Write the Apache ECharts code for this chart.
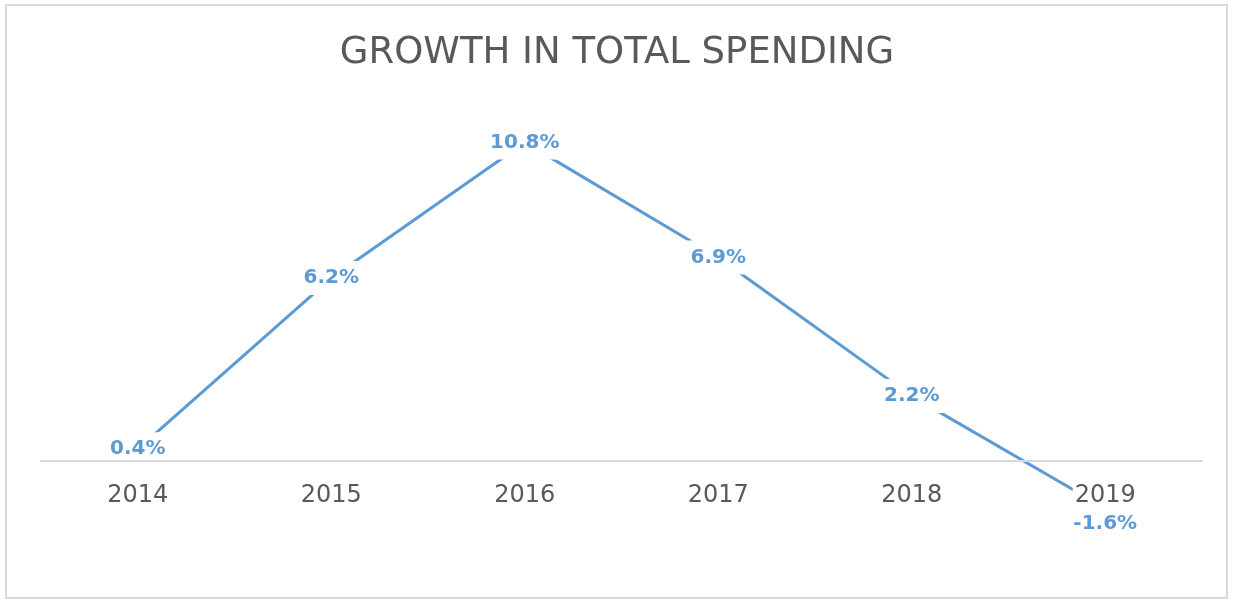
<!DOCTYPE html>
<html>
<head>
<meta charset="utf-8">
<script src="https://cdn.jsdelivr.net/npm/echarts@6/dist/echarts.min.js"></script>
<style>
  html, body { margin: 0; padding: 0; background: #ffffff; }
  #frame {
    position: absolute; left: 5px; top: 4px; width: 1223px; height: 595px;
    border: 2px solid #d9d9d9; box-sizing: border-box;
  }
  #chart { position: absolute; left: 0; top: 0; width: 1234px; height: 605px; }
</style>
</head>
<body>
<div id="frame"></div>
<div id="chart"></div>
<script>
// Year-over-year growth in total spending (%)
const years = ['2014', '2015', '2016', '2017', '2018', '2019'];
const growth = [0.4, 6.2, 10.8, 6.9, 2.2, -1.6];

const blue = '#5B9BD5';
const grey = '#595959';

// value range of the hidden y axis
const yMin = -4;
const yMax = 12;
const gridTop = 107;
const gridBottom = 26;
const chartHeight = 605;

// the category axis sits on the zero line: shift it up from the grid bottom
const plotHeight = chartHeight - gridTop - gridBottom;
const zeroShift = plotHeight * (0 - yMin) / (yMax - yMin);

const seriesData = growth.map(function (v) {
  const item = { value: v };
  // negative value: label sits beneath the category name
  if (v < 0) {
    item.label = { offset: [0, 16], padding: [3, 4] };
  }
  return item;
});

const chart = echarts.init(document.getElementById('chart'));
chart.setOption({
  animation: false,
  backgroundColor: 'transparent',
  title: {
    text: 'GROWTH IN TOTAL SPENDING',
    left: 'center',
    top: 30,
    textStyle: {
      fontFamily: 'DejaVu Sans',
      fontSize: 37,
      fontWeight: 'normal',
      color: grey
    }
  },
  grid: {
    left: 41, right: 32, top: gridTop, bottom: gridBottom,
    containLabel: false,
    outerBoundsMode: 'none'
  },
  xAxis: {
    type: 'category',
    data: years,
    boundaryGap: true,
    position: 'bottom',
    offset: -zeroShift,
    z: 5,
    axisLine: { show: true, onZero: false, lineStyle: { color: '#d9d9d9', width: 2 } },
    axisTick: { show: false },
    axisLabel: {
      margin: 21,
      fontFamily: 'DejaVu Sans',
      fontSize: 24,
      color: grey,
      backgroundColor: '#ffffff',
      padding: [2, 2]
    },
    splitLine: { show: false }
  },
  yAxis: {
    type: 'value',
    min: yMin,
    max: yMax,
    show: false,
    splitLine: { show: false }
  },
  series: [{
    type: 'line',
    data: seriesData,
    symbol: 'circle',
    symbolSize: 1,
    showSymbol: true,
    lineStyle: { color: blue, width: 3 },
    itemStyle: { color: blue },
    label: {
      show: true,
      position: 'inside',
      formatter: function (p) { return p.value.toFixed(1) + '%'; },
      fontFamily: 'DejaVu Sans',
      fontSize: 20,
      fontWeight: 'bold',
      color: blue,
      backgroundColor: '#ffffff',
      padding: [7, 9]
    }
  }]
});
</script>
</body>
</html>
